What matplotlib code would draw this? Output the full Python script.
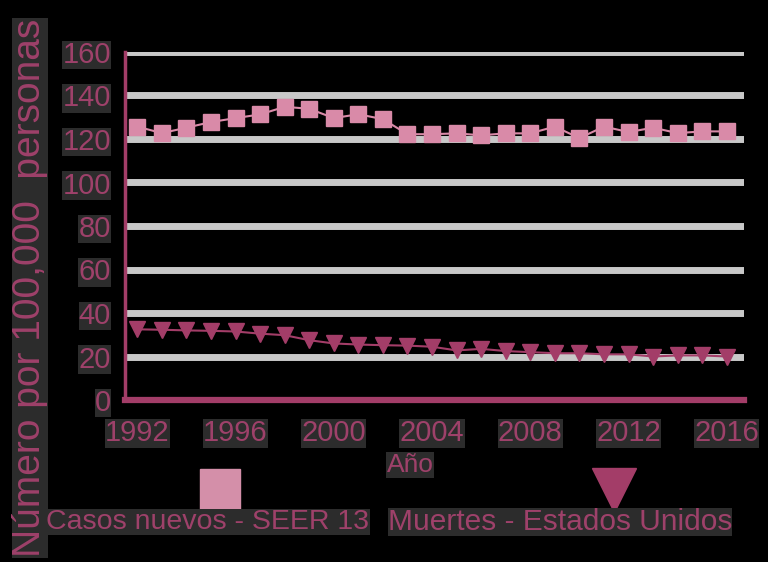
import numpy as np
import matplotlib.pyplot as plt
from matplotlib.lines import Line2D

plt.rcParams['font.family'] = ['Liberation Sans', 'DejaVu Sans']

# data
years = np.arange(1992, 2017)
casos = [125.7, 122.7, 125.2, 127.8, 129.6, 131.3, 134.8, 133.9, 129.6, 131.4,
         129.1, 122.2, 122.2, 122.6, 121.7, 122.6, 122.6, 125.7, 120.4, 125.7,
         123.2, 125.2, 122.7, 123.5, 123.5]
muertes = [32.5, 32.3, 32.0, 31.8, 31.5, 30.5, 29.8, 27.5, 26.0, 25.5,
           25.2, 25.0, 24.5, 22.8, 23.5, 22.5, 22.0, 21.5, 21.5, 21.0,
           21.0, 20.0, 20.5, 20.5, 20.0]
xticks = [1992, 1996, 2000, 2004, 2008, 2012, 2016]
yticks = [0, 20, 40, 60, 80, 100, 120, 140, 160]

txt = '#9e416a'
c_casos = '#d98aa8'
c_muertes = '#a33d68'
box = dict(facecolor='#2c2c2c', edgecolor='none', pad=0.3)

fig = plt.figure(figsize=(7.68, 5.62), dpi=100, facecolor='black')
W, H = 768, 562
ax = fig.add_axes([125 / W, 1 - 400 / H, (744 - 125) / W, (400 - 52) / H])
ax.set_facecolor('black')

ax.plot(years, casos, color=c_casos, lw=1.5, marker='s', ms=12, mec=c_casos, zorder=3)
ax.plot(years, muertes, color=c_muertes, lw=1.5, marker='v', ms=11.5, mec=c_muertes, zorder=3)

ax.set_xlim(1991.5, 2016.7)
ax.set_ylim(0, 160)
ax.set_xticks(xticks)
ax.set_yticks(yticks)
ax.yaxis.grid(True, color='#c8c8c8', linewidth=5)
ax.set_axisbelow(True)
ax.tick_params(length=0, labelsize=21, labelcolor=txt)
ax.tick_params(axis='x', pad=14)
ax.tick_params(axis='y', pad=10)
for lab in ax.get_xticklabels() + ax.get_yticklabels():
    lab.set_bbox(box)

for s in ['top', 'right']:
    ax.spines[s].set_visible(False)
ax.spines['left'].set_color(c_muertes)
ax.spines['left'].set_linewidth(2.5)
ax.spines['bottom'].set_color(c_muertes)
ax.spines['bottom'].set_linewidth(4.5)

fig.text(30 / W, 1 - 288 / H, 'Número por 100,000  personas', rotation=90,
         ha='center', va='center', fontsize=28, color=txt, bbox=box)
fig.text(410 / W, 1 - 465 / H, 'Año', ha='center', va='center', fontsize=19,
         color=txt, bbox=box)

# legend: marker above label
fig.add_artist(Line2D([220 / W], [1 - 489 / H], transform=fig.transFigure,
                      marker='s', ms=29, color='#d48fa9', ls='none'))
fig.add_artist(Line2D([614 / W], [1 - 490 / H], transform=fig.transFigure,
                      marker='v', ms=32, color=c_muertes, ls='none'))
fig.text(208 / W, 1 - 522 / H, 'Casos nuevos - SEER 13', ha='center', va='center',
         fontsize=20.5, color=txt, bbox=box)
fig.text(560 / W, 1 - 522 / H, 'Muertes - Estados Unidos', ha='center', va='center',
         fontsize=21.5, color=txt, bbox=box)

fig.savefig('out.png', dpi=100, facecolor='black')
